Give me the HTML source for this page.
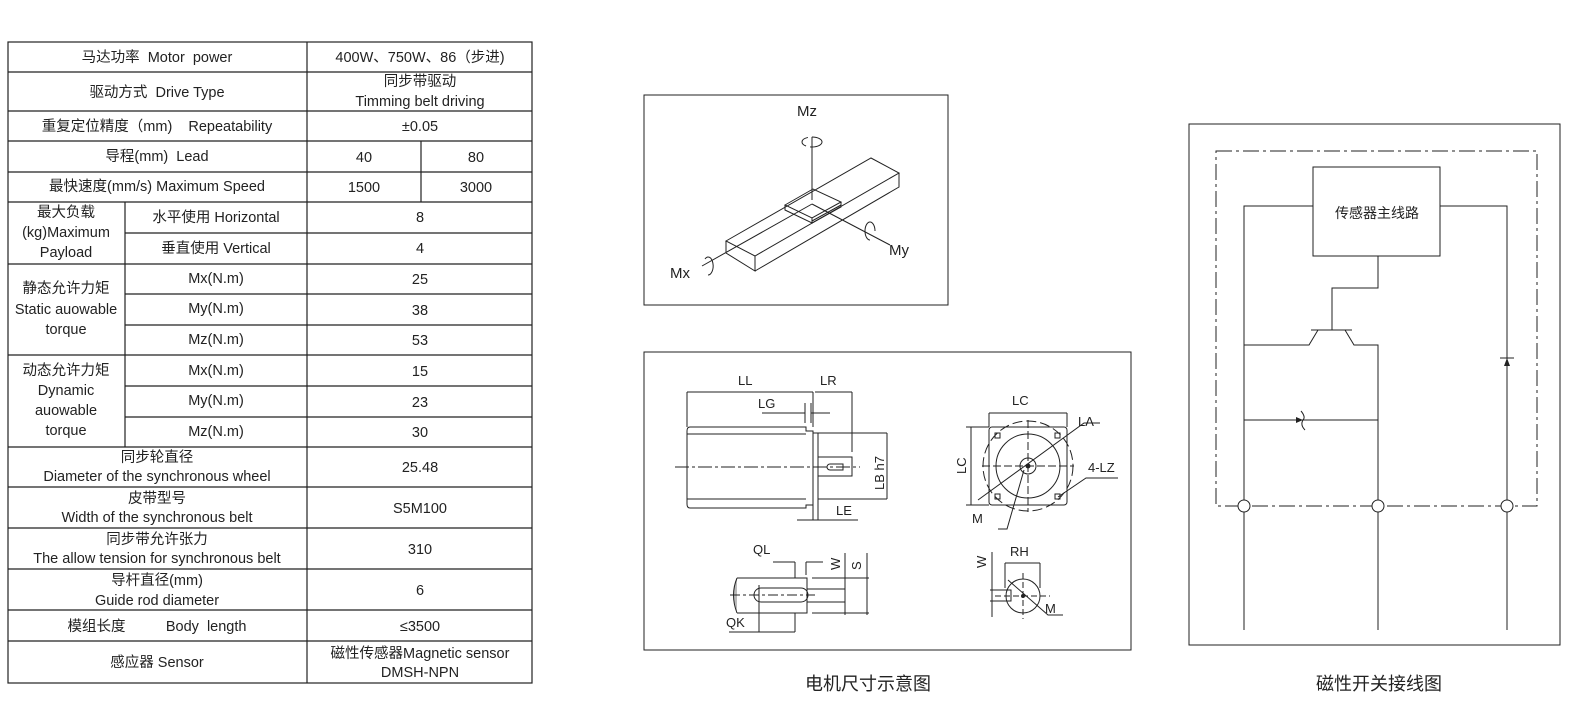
<!DOCTYPE html>
<html><head><meta charset="utf-8"><style>
body{margin:0;background:#fff}
svg{display:block}
text{font-family:"Liberation Sans","Noto Sans CJK SC",sans-serif;fill:#222;white-space:pre}
</style></head><body>
<svg width="1580" height="726" viewBox="0 0 1580 726" xmlns="http://www.w3.org/2000/svg">
<g stroke="#222" stroke-width="1.2" fill="none">
<rect x="8" y="42" width="524" height="641"/>
<line x1="307" y1="42" x2="307" y2="683"/>
<line x1="421" y1="141" x2="421" y2="202"/>
<line x1="125" y1="202" x2="125" y2="447"/>
<path d="M8 72H532M8 111H532M8 141H532M8 172H532M8 202H532M125 233H532M8 264H532M125 294H532M125 325H532M8 355H532M125 386H532M125 417H532M8 447H532M8 487H532M8 528H532M8 569H532M8 610H532M8 641H532"/>
</g>
<g font-size="14.5" text-anchor="middle">
<text x="157" y="62">马达功率  Motor  power</text>
<text x="420" y="62">400W、750W、86（步进)</text>
<text x="157" y="97">驱动方式  Drive Type</text>
<text x="420" y="86">同步带驱动</text>
<text x="420" y="106">Timming belt driving</text>
<text x="157" y="131">重复定位精度（mm)    Repeatability</text>
<text x="420" y="131">±0.05</text>
<text x="157" y="161">导程(mm)  Lead</text>
<text x="364" y="162">40</text><text x="476" y="162">80</text>
<text x="157" y="191">最快速度(mm/s) Maximum Speed</text>
<text x="364" y="192">1500</text><text x="476" y="192">3000</text>
<text x="66" y="217">最大负载</text>
<text x="66" y="237">(kg)Maximum</text>
<text x="66" y="257">Payload</text>
<text x="216" y="222">水平使用 Horizontal</text>
<text x="420" y="222">8</text>
<text x="216" y="253">垂直使用 Vertical</text>
<text x="420" y="253">4</text>
<text x="66" y="293">静态允许力矩</text>
<text x="66" y="314">Static auowable</text>
<text x="66" y="334">torque</text>
<text x="216" y="283">Mx(N.m)</text><text x="420" y="284">25</text>
<text x="216" y="313">My(N.m)</text><text x="420" y="315">38</text>
<text x="216" y="344">Mz(N.m)</text><text x="420" y="345">53</text>
<text x="66" y="375">动态允许力矩</text>
<text x="66" y="395">Dynamic</text>
<text x="66" y="415">auowable</text>
<text x="66" y="435">torque</text>
<text x="216" y="375">Mx(N.m)</text><text x="420" y="376">15</text>
<text x="216" y="405">My(N.m)</text><text x="420" y="407">23</text>
<text x="216" y="436">Mz(N.m)</text><text x="420" y="437">30</text>
<text x="157" y="462">同步轮直径</text>
<text x="157" y="481">Diameter of the synchronous wheel</text>
<text x="420" y="472">25.48</text>
<text x="157" y="503">皮带型号</text>
<text x="157" y="522">Width of the synchronous belt</text>
<text x="420" y="513">S5M100</text>
<text x="157" y="544">同步带允许张力</text>
<text x="157" y="563">The allow tension for synchronous belt</text>
<text x="420" y="554">310</text>
<text x="157" y="585">导杆直径(mm)</text>
<text x="157" y="605">Guide rod diameter</text>
<text x="420" y="595">6</text>
<text x="157" y="631">模组长度          Body  length</text>
<text x="420" y="631">≤3500</text>
<text x="157" y="667">感应器 Sensor</text>
<text x="420" y="658">磁性传感器Magnetic sensor</text>
<text x="420" y="677">DMSH-NPN</text>
</g>

<!-- 3D diagram -->
<g stroke="#222" stroke-width="1" fill="none">
<rect x="644" y="95" width="304" height="210"/>
<path d="M726 241L871 158L899 173L755 256Z"/>
<path d="M726 241V253L755 271V256M755 271L899 187V173"/>
<path d="M785 205L813 189L841 202L812 218Z"/>
<path d="M785 205V210L812 223V218M812 223L841 207V202M812 221L841 205"/>
<line x1="812" y1="137" x2="812" y2="200"/>
<ellipse cx="812" cy="142" rx="10" ry="5" stroke-dasharray="14 4"/>
<line x1="702" y1="266" x2="812" y2="204"/>
<path d="M705 259a5 9 0 1 1 3 16"/>
<line x1="812" y1="204" x2="890" y2="245"/>
<path d="M870 240a5 9 0 1 1 5 -9" />
</g>
<g font-size="15">
<text x="797" y="116">Mz</text>
<text x="670" y="278">Mx</text>
<text x="889" y="255">My</text>
</g>

<!-- motor dimension -->
<g stroke="#222" stroke-width="1" fill="none">
<rect x="644" y="352" width="487" height="298"/>
<path d="M690 427H806V431H813V505H806V508H690Q687 508 687 504V431Q687 427 690 427Z"/>
<path d="M687 434H806M687 499H806"/>
<rect x="813" y="433" width="5" height="87"/>
<rect x="818" y="457" width="34" height="19"/>
<path d="M830 464H843V470H830A3 3 0 0 1 830 464Z"/>
<path d="M818 433H887M818 499H887"/>
<path d="M675 467H860" stroke-dasharray="14 3 3 3"/>
<path d="M687 392V427M813 392V427M852 392V452M805 403V423M811 403V423"/>
<path d="M687 392H813M815 392H852M762 413H805M811 413H830M887 433V499M797 520H813M818 520H858"/>
<rect x="989" y="427" width="78" height="78" rx="3"/>
<circle cx="1028" cy="466" r="45" stroke-dasharray="10 4"/>
<circle cx="1028" cy="466" r="32"/>
<circle cx="1028" cy="466" r="8"/>
<circle cx="1028" cy="466" r="2" fill="#222"/>
<path d="M982 466H1074M1028 420V512" stroke-dasharray="8 3"/>
<rect x="995" y="433" width="5" height="5"/><rect x="1055" y="433" width="5" height="5"/>
<rect x="995" y="494" width="5" height="5"/><rect x="1055" y="494" width="5" height="5"/>
<path d="M989 413H1067M989 413V427M1067 413V427"/>
<path d="M971 427V505M966 427H989M966 505H989"/>
<path d="M978 500L1084 423H1100"/>
<path d="M1058 497L1086 478H1118"/>
<path d="M998 529H1007L1024 470"/>
<path d="M737 578H807V613H737"/>
<path d="M737 578Q730 595 737 613" fill="#bbb"/>
<path d="M761 588H801A6 6 0 0 1 801 602H761A6 6 0 0 1 761 588Z"/>
<path d="M807 589H845M807 602H845M812 578H869M812 613H869"/>
<path d="M730 595H815" stroke-dasharray="10 3 3 3"/>
<path d="M795 562V578M806 562V575M773 562H795M806 562H823M845 553V615M867 553V615M759 585V632M795 613V632M729 632H795"/>
<circle cx="1023" cy="596" r="17"/>
<circle cx="1023" cy="596" r="1.5" fill="#222"/>
<path d="M995 596H1050M1023 573V619" stroke-dasharray="6 3"/>
<path d="M990 590H1011V601H990"/>
<path d="M1005 563V588M1040 563V588M1005 563H1040M992 552V617"/>
<path d="M1008 580L1048 615H1063"/>
</g>
<g font-size="13">
<text x="738" y="385">LL</text>
<text x="820" y="385">LR</text>
<text x="758" y="408">LG</text>
<text x="836" y="515">LE</text>
<text x="1012" y="405">LC</text>
<text x="1078" y="426">LA</text>
<text x="1088" y="472">4-LZ</text>
<text x="972" y="523">M</text>
<text x="753" y="554">QL</text>
<text x="726" y="627">QK</text>
<text x="1010" y="556">RH</text>
<text x="1045" y="613">M</text>
<text transform="translate(884,490) rotate(-90)">LB h7</text>
<text transform="translate(966,474) rotate(-90)">LC</text>
<text transform="translate(840,570) rotate(-90)">W</text>
<text transform="translate(861,570) rotate(-90)">S</text>
<text transform="translate(986,568) rotate(-90)">W</text>
</g>
<text x="868" y="690" font-size="18" text-anchor="middle">电机尺寸示意图</text>

<g stroke="#222" stroke-width="1" fill="none">
<rect x="1189" y="124" width="371" height="521"/>
<rect x="1216" y="151" width="321" height="355" stroke-dasharray="16 4 3 4"/>
<rect x="1313" y="167" width="127" height="89" fill="#fff"/>
<path d="M1313 206H1244V500M1440 206H1507V500"/>
<path d="M1378 256V288H1332V330M1311 330H1352M1318 330L1309 345H1244M1345 330L1354 345H1378V500"/>
<path d="M1244 420H1378M1301 411Q1306 417 1303 420Q1300 425 1305 430"/>
<path d="M1500 358H1514"/>
<circle cx="1244" cy="506" r="6" fill="#fff"/>
<circle cx="1378" cy="506" r="6" fill="#fff"/>
<circle cx="1507" cy="506" r="6" fill="#fff"/>
<path d="M1244 512V630M1378 512V630M1507 512V630"/>
</g>
<path d="M1296 417L1303 420L1296 423Z" fill="#222"/>
<path d="M1504 366L1507 358L1510 366Z" fill="#222"/>
<text x="1377" y="218" font-size="14" text-anchor="middle">传感器主线路</text>
<text x="1379" y="690" font-size="18" text-anchor="middle">磁性开关接线图</text>
</svg>
</body></html>
